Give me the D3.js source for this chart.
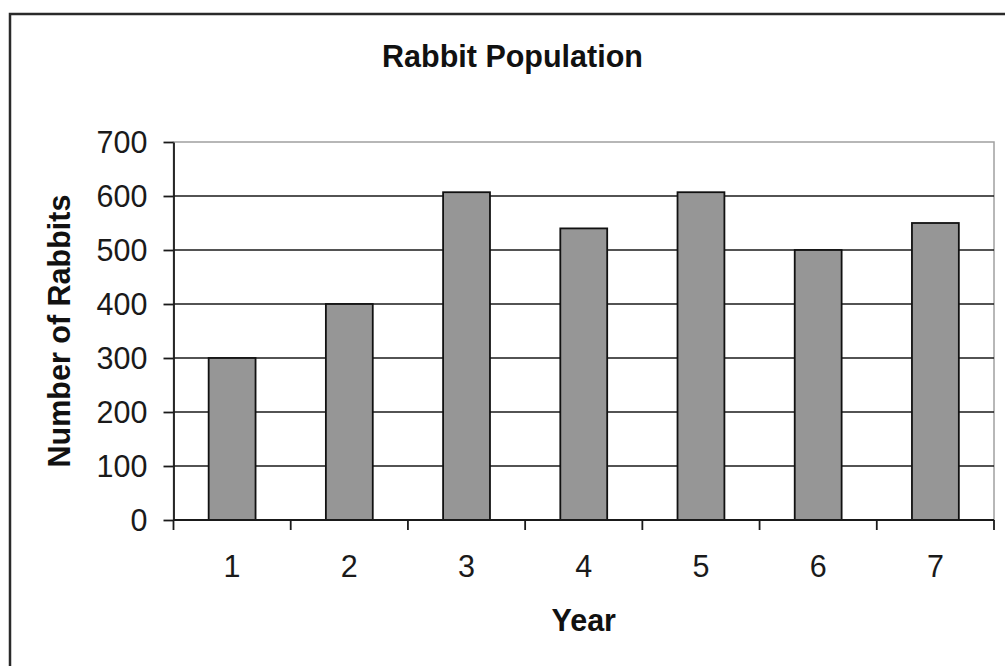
<!DOCTYPE html>
<html>
<head>
<meta charset="utf-8">
<script src="https://cdn.jsdelivr.net/npm/d3@7"></script>
<style>
  html, body { margin: 0; padding: 0; background: #fff; }
  svg { display: block; font-family: "Liberation Sans", Arial, sans-serif; }
</style>
</head>
<body>
<svg id="chart" width="1005" height="666"></svg>
<script>
// Rabbit population by year
const years = ["1", "2", "3", "4", "5", "6", "7"];
const rabbits = [300, 400, 607, 540, 607, 500, 550];
const yTicks = [0, 100, 200, 300, 400, 500, 600, 700];

const svg = d3.select("#chart");

// chart frame (extends beyond the visible page on right and bottom)
svg.append("rect")
  .attr("x", 10).attr("y", 14)
  .attr("width", 1010).attr("height", 670)
  .attr("fill", "#fff")
  .attr("stroke", "#2a2a2a")
  .attr("stroke-width", 2.5);

const plot = { left: 173.5, right: 994, top: 142, bottom: 520 };

const x = d3.scaleBand()
  .domain(years)
  .range([plot.left, plot.right])
  .paddingInner(0.6)
  .paddingOuter(0.3);

const xEdges = d3.scaleLinear()
  .domain([0, years.length])
  .range([plot.left, plot.right]);

const y = d3.scaleLinear()
  .domain([0, 700])
  .range([plot.bottom, plot.top]);

// plot area border (grey)
svg.append("rect")
  .attr("x", plot.left).attr("y", plot.top)
  .attr("width", plot.right - plot.left)
  .attr("height", plot.bottom - plot.top)
  .attr("fill", "none")
  .attr("stroke", "#a0a0a0")
  .attr("stroke-width", 1.5);

// horizontal gridlines
svg.append("g")
  .selectAll("line")
  .data(yTicks.filter(d => d > 0 && d < 700))
  .join("line")
  .attr("x1", plot.left).attr("x2", plot.right)
  .attr("y1", d => y(d)).attr("y2", d => y(d))
  .attr("stroke", "#1a1a1a")
  .attr("stroke-width", 1.6);

// bars
svg.append("g")
  .selectAll("rect")
  .data(years.map((yr, i) => ({ yr, v: rabbits[i] })))
  .join("rect")
  .attr("x", d => x(d.yr))
  .attr("y", d => y(d.v))
  .attr("width", x.bandwidth())
  .attr("height", d => y(0) - y(d.v))
  .attr("fill", "#969696")
  .attr("stroke", "#111")
  .attr("stroke-width", 1.8);

// y axis
const yAxis = svg.append("g")
  .attr("transform", `translate(${plot.left},0)`)
  .call(d3.axisLeft(y).tickValues(yTicks).tickSize(10).tickPadding(16).tickSizeOuter(0));
yAxis.select(".domain").attr("stroke", "#1a1a1a").attr("stroke-width", 1.8);
yAxis.selectAll(".tick line").attr("stroke", "#1a1a1a").attr("stroke-width", 1.8);
yAxis.selectAll(".tick text")
  .attr("fill", "#1a1a1a")
  .style("font-size", "30.5px")
  .attr("dy", "0.36em");

// x axis: ticks at category boundaries, labels at category centres
const xAxisG = svg.append("g").attr("transform", `translate(0,${plot.bottom})`);
xAxisG.append("line")
  .attr("x1", plot.left).attr("x2", plot.right)
  .attr("stroke", "#1a1a1a").attr("stroke-width", 1.8);
xAxisG.selectAll("line.edge")
  .data(d3.range(years.length + 1))
  .join("line")
  .attr("class", "edge")
  .attr("x1", d => xEdges(d)).attr("x2", d => xEdges(d))
  .attr("y1", 0).attr("y2", 10)
  .attr("stroke", "#1a1a1a").attr("stroke-width", 1.8);
xAxisG.selectAll("text")
  .data(years)
  .join("text")
  .attr("x", d => x(d) + x.bandwidth() / 2)
  .attr("y", 57)
  .attr("text-anchor", "middle")
  .attr("fill", "#1a1a1a")
  .style("font-size", "30.5px")
  .text(d => d);

// titles
svg.append("text")
  .attr("x", 512.5).attr("y", 67)
  .attr("text-anchor", "middle")
  .style("font-size", "30.5px").style("font-weight", "bold")
  .attr("fill", "#111")
  .text("Rabbit Population");

svg.append("text")
  .attr("x", (plot.left + plot.right) / 2).attr("y", 631)
  .attr("text-anchor", "middle")
  .style("font-size", "30.5px").style("font-weight", "bold")
  .attr("fill", "#111")
  .text("Year");

svg.append("text")
  .attr("transform", `translate(70,${(plot.top + plot.bottom) / 2}) rotate(-90)`)
  .attr("text-anchor", "middle")
  .style("font-size", "30.5px").style("font-weight", "bold")
  .attr("fill", "#111")
  .text("Number of Rabbits");
</script>
</body>
</html>
